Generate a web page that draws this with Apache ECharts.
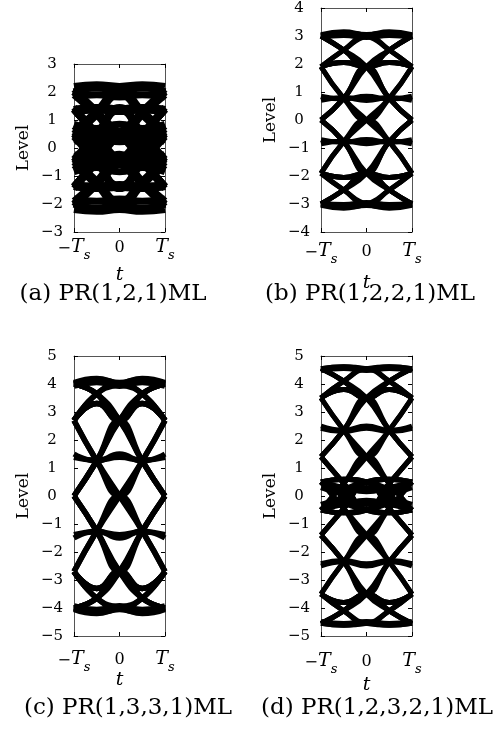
<!DOCTYPE html>
<html><head><meta charset="utf-8">
<script src="https://cdn.jsdelivr.net/npm/echarts@6/dist/echarts.min.js"></script>
<style>html,body{margin:0;padding:0;background:#fff}#c{width:499px;height:738px}</style>
</head><body><div id="c"></div>
<script>
// sample instants (in units of Ts) at which each trace's level is read
const tSamples = [-1, -0.5, 0, 0.5, 1];
const xTicks = [-1, 0, 1];

// (a) PR(1,2,1)ML traces: level at t = -Ts, -Ts/2, 0, Ts/2, Ts
const tracesA = [
  [2.0, 2.15, 2.0, 2.15, 2.0], [2.2, 2.26, 2.2, 2.26, 2.2], [1.82, 1.9, 1.82, 1.9, 1.82],
  [2.0, 2.15, 2.0, 1.25, 0.5], [0.5, 1.25, 2.0, 2.15, 2.0],
  [0.5, 1.25, 2.0, 1.25, 0.5], [2.0, 1.25, 0.5, 1.25, 2.0],
  [2.1, 1.32, 0.6, 1.32, 2.1], [1.9, 1.18, 0.4, 1.18, 1.9],
  [0.6, 1.32, 2.1, 1.32, 0.6], [0.4, 1.18, 1.9, 1.18, 0.4],
  [2.0, 1.25, 0.5, 0.6, 0.5], [0.5, 0.6, 0.5, 1.25, 2.0],
  [2.0, 1.25, 0.5, 0.0, -0.5], [-0.5, 0.0, 0.5, 1.25, 2.0],
  [1.38, 1.45, 1.38, 1.45, 1.38], [1.3, 1.36, 1.3, 1.36, 1.3],
  [1.38, 1.45, 1.38, 0.44, -0.5], [-0.5, 0.44, 1.38, 1.45, 1.38],
  [-0.5, 0.44, 1.38, 0.44, -0.5], [1.38, 0.44, -0.5, 0.44, 1.38],
  [-0.4, 0.52, 1.45, 0.52, -0.4], [1.45, 0.52, -0.4, 0.52, 1.45],
  [1.38, 0.44, -0.5, -0.6, -0.5], [-0.5, -0.6, -0.5, 0.44, 1.38],
  [1.38, 0.44, -0.5, 0.0, 0.5], [0.5, 0.0, -0.5, 0.44, 1.38],
  [1.38, 0.44, -0.5, -1.25, -2.0], [-2.0, -1.25, -0.5, 0.44, 1.38],
  [0.5, 0.6, 0.5, 0.6, 0.5], [0.85, 0.7, 0.85, 0.7, 0.85], [0.22, 0.45, 0.22, 0.45, 0.22],
  [0.5, 0.0, -0.5, 0.0, 0.5], [0.3, 0.12, -0.3, 0.12, 0.3],
  [-2.0, -2.15, -2.0, -2.15, -2.0], [-2.2, -2.26, -2.2, -2.26, -2.2], [-1.82, -1.9, -1.82, -1.9, -1.82],
  [-2.0, -2.15, -2.0, -1.25, -0.5], [-0.5, -1.25, -2.0, -2.15, -2.0],
  [-0.5, -1.25, -2.0, -1.25, -0.5], [-2.0, -1.25, -0.5, -1.25, -2.0],
  [-2.1, -1.32, -0.6, -1.32, -2.1], [-1.9, -1.18, -0.4, -1.18, -1.9],
  [-0.6, -1.32, -2.1, -1.32, -0.6], [-0.4, -1.18, -1.9, -1.18, -0.4],
  [-2.0, -1.25, -0.5, -0.6, -0.5], [-0.5, -0.6, -0.5, -1.25, -2.0],
  [-2.0, -1.25, -0.5, 0.0, 0.5], [0.5, 0.0, -0.5, -1.25, -2.0],
  [-1.38, -1.45, -1.38, -1.45, -1.38], [-1.3, -1.36, -1.3, -1.36, -1.3],
  [-1.38, -1.45, -1.38, -0.44, 0.5], [0.5, -0.44, -1.38, -1.45, -1.38],
  [0.5, -0.44, -1.38, -0.44, 0.5], [-1.38, -0.44, 0.5, -0.44, -1.38],
  [0.4, -0.52, -1.45, -0.52, 0.4], [-1.45, -0.52, 0.4, -0.52, -1.45],
  [-1.38, -0.44, 0.5, 0.6, 0.5], [0.5, 0.6, 0.5, -0.44, -1.38],
  [-1.38, -0.44, 0.5, 0.0, -0.5], [-0.5, 0.0, 0.5, -0.44, -1.38],
  [-1.38, -0.44, 0.5, 1.25, 2.0], [2.0, 1.25, 0.5, -0.44, -1.38],
  [-0.5, -0.6, -0.5, -0.6, -0.5], [-0.85, -0.7, -0.85, -0.7, -0.85], [-0.22, -0.45, -0.22, -0.45, -0.22],
  [-0.5, 0.0, 0.5, 0.0, -0.5], [-0.3, -0.12, 0.3, -0.12, -0.3]
];

// (b) PR(1,2,2,1)ML
const tracesB = [
  [3, 3.1, 3, 3.1, 3], [3.05, 3.15, 3.05, 3.15, 3.05], [2.95, 3.02, 2.95, 3.02, 2.95],
  [3, 3.1, 3, 2.5, 1.9], [1.9, 2.5, 3, 3.1, 3],
  [1.9, 2.5, 3, 2.5, 1.9], [3, 2.5, 1.9, 2.5, 3],
  [3, 2.5, 1.9, 2.05, 1.9], [1.9, 2.05, 1.9, 2.5, 3],
  [1.9, 2.05, 1.9, 2.05, 1.9],
  [3, 2.5, 1.9, 0.77, 0], [0, 0.77, 1.9, 2.5, 3],
  [1.9, 2.05, 1.9, 0.77, 0], [0, 0.77, 1.9, 2.05, 1.9],
  [0, 0.77, 1.9, 0.77, 0], [1.9, 0.77, 0, 0.77, 1.9],
  [1.9, 0.77, 0, -0.77, -1.9],
  [0.85, 0.75, 0.85, 0.75, 0.85], [0.7, 0.8, 0.7, 0.8, 0.7],
  [-3, -3.1, -3, -3.1, -3], [-3.05, -3.15, -3.05, -3.15, -3.05], [-2.95, -3.02, -2.95, -3.02, -2.95],
  [-3, -3.1, -3, -2.5, -1.9], [-1.9, -2.5, -3, -3.1, -3],
  [-1.9, -2.5, -3, -2.5, -1.9], [-3, -2.5, -1.9, -2.5, -3],
  [-3, -2.5, -1.9, -2.05, -1.9], [-1.9, -2.05, -1.9, -2.5, -3],
  [-1.9, -2.05, -1.9, -2.05, -1.9],
  [-3, -2.5, -1.9, -0.77, 0], [0, -0.77, -1.9, -2.5, -3],
  [-1.9, -2.05, -1.9, -0.77, 0], [0, -0.77, -1.9, -2.05, -1.9],
  [0, -0.77, -1.9, -0.77, 0], [-1.9, -0.77, 0, -0.77, -1.9],
  [-1.9, -0.77, 0, 0.77, 1.9],
  [-0.85, -0.75, -0.85, -0.75, -0.85], [-0.7, -0.8, -0.7, -0.8, -0.7]
];

// (c) PR(1,3,3,1)ML
const tracesC = [
  [4, 4.15, 4, 4.15, 4], [4.05, 4.2, 4.05, 4.2, 4.05], [3.92, 4.05, 3.92, 4.05, 3.92],
  [4, 4.15, 4, 3.65, 2.7], [2.7, 3.65, 4, 4.15, 4],
  [2.7, 3.65, 4, 3.65, 2.7], [4, 3.65, 2.7, 3.65, 4],
  [4, 3.65, 2.7, 3.3, 2.7], [2.7, 3.3, 2.7, 3.65, 4],
  [2.7, 3.3, 2.7, 3.3, 2.7],
  [4, 3.65, 2.7, 1.25, 0], [0, 1.25, 2.7, 3.65, 4],
  [2.7, 3.3, 2.7, 1.25, 0], [0, 1.25, 2.7, 3.3, 2.7],
  [0, 1.25, 2.7, 1.25, 0], [2.7, 1.25, 0, 1.25, 2.7],
  [2.7, 1.25, 0, -1.25, -2.7],
  [1.5, 1.25, 1.5, 1.25, 1.5], [1.38, 1.28, 1.38, 1.28, 1.38],
  [-4, -4.15, -4, -4.15, -4], [-4.05, -4.2, -4.05, -4.2, -4.05], [-3.92, -4.05, -3.92, -4.05, -3.92],
  [-4, -4.15, -4, -3.65, -2.7], [-2.7, -3.65, -4, -4.15, -4],
  [-2.7, -3.65, -4, -3.65, -2.7], [-4, -3.65, -2.7, -3.65, -4],
  [-4, -3.65, -2.7, -3.3, -2.7], [-2.7, -3.3, -2.7, -3.65, -4],
  [-2.7, -3.3, -2.7, -3.3, -2.7],
  [-4, -3.65, -2.7, -1.25, 0], [0, -1.25, -2.7, -3.65, -4],
  [-2.7, -3.3, -2.7, -1.25, 0], [0, -1.25, -2.7, -3.3, -2.7],
  [0, -1.25, -2.7, -1.25, 0], [-2.7, -1.25, 0, -1.25, -2.7],
  [-2.7, -1.25, 0, 1.25, 2.7],
  [-1.5, -1.25, -1.5, -1.25, -1.5], [-1.38, -1.28, -1.38, -1.28, -1.38]
];

// (d) PR(1,2,3,2,1)ML
const tracesD = [
  [4.55, 4.62, 4.55, 4.62, 4.55], [4.48, 4.55, 4.48, 4.55, 4.48],
  [4.55, 4.62, 4.55, 4.1, 3.5], [3.5, 4.1, 4.55, 4.62, 4.55],
  [3.5, 4.1, 4.55, 4.1, 3.5], [4.55, 4.1, 3.5, 4.1, 4.55],
  [4.55, 4.1, 3.5, 3.8, 3.5], [3.5, 3.8, 3.5, 4.1, 4.55],
  [3.5, 3.8, 3.5, 3.8, 3.5],
  [4.55, 4.1, 3.5, 2.35, 1.4], [1.4, 2.35, 3.5, 4.1, 4.55],
  [3.5, 3.8, 3.5, 2.35, 1.4], [1.4, 2.35, 3.5, 3.8, 3.5],
  [1.4, 2.35, 3.5, 2.35, 1.4], [3.5, 2.35, 1.4, 2.35, 3.5],
  [3.5, 2.35, 1.4, 0.45, -0.5], [-0.5, 0.45, 1.4, 2.35, 3.5],
  [-0.5, 0.45, 1.4, 0.45, -0.5], [1.4, 0.45, -0.5, 0.45, 1.4],
  [2.5, 2.35, 2.5, 2.35, 2.5], [2.42, 2.3, 2.42, 2.3, 2.42],
  [0.5, 0.0, -0.5, 0.0, 0.5], [-0.5, 0.0, 0.5, 0.0, -0.5],
  [0.5, 0.6, 0.5, 0.6, 0.5], [0.5, 0.3, 0.5, 0.3, 0.5], [0.3, 0.15, 0.3, 0.15, 0.3],
  [0.5, 0.3, 0.15, 0.3, 0.5],
  [0.5, 0.6, 0.5, 0.0, -0.5], [-0.5, 0.0, 0.5, 0.6, 0.5],
  [1.4, 0.45, -0.5, 0.0, 0.5], [0.5, 0.0, -0.5, 0.45, 1.4],
  [1.4, 0.45, -0.5, -0.6, -0.5], [-0.5, -0.6, -0.5, 0.45, 1.4],
  [-4.55, -4.62, -4.55, -4.62, -4.55], [-4.48, -4.55, -4.48, -4.55, -4.48],
  [-4.55, -4.62, -4.55, -4.1, -3.5], [-3.5, -4.1, -4.55, -4.62, -4.55],
  [-3.5, -4.1, -4.55, -4.1, -3.5], [-4.55, -4.1, -3.5, -4.1, -4.55],
  [-4.55, -4.1, -3.5, -3.8, -3.5], [-3.5, -3.8, -3.5, -4.1, -4.55],
  [-3.5, -3.8, -3.5, -3.8, -3.5],
  [-4.55, -4.1, -3.5, -2.35, -1.4], [-1.4, -2.35, -3.5, -4.1, -4.55],
  [-3.5, -3.8, -3.5, -2.35, -1.4], [-1.4, -2.35, -3.5, -3.8, -3.5],
  [-1.4, -2.35, -3.5, -2.35, -1.4], [-3.5, -2.35, -1.4, -2.35, -3.5],
  [-3.5, -2.35, -1.4, -0.45, 0.5], [0.5, -0.45, -1.4, -2.35, -3.5],
  [0.5, -0.45, -1.4, -0.45, 0.5], [-1.4, -0.45, 0.5, -0.45, -1.4],
  [-2.5, -2.35, -2.5, -2.35, -2.5], [-2.42, -2.3, -2.42, -2.3, -2.42],
  [-0.5, -0.6, -0.5, -0.6, -0.5], [-0.5, -0.3, -0.5, -0.3, -0.5], [-0.3, -0.15, -0.3, -0.15, -0.3],
  [-0.5, -0.3, -0.15, -0.3, -0.5],
  [-0.5, -0.6, -0.5, 0.0, 0.5], [0.5, 0.0, -0.5, -0.6, -0.5],
  [-1.4, -0.45, 0.5, 0.0, -0.5], [-0.5, 0.0, 0.5, -0.45, -1.4],
  [-1.4, -0.45, 0.5, 0.6, 0.5], [0.5, 0.6, 0.5, -0.45, -1.4]
];

const captions = ['(a) PR(1,2,1)ML', '(b) PR(1,2,2,1)ML', '(c) PR(1,3,3,1)ML', '(d) PR(1,2,3,2,1)ML'];
const yRanges = [[-3, 3], [-4, 4], [-5, 5], [-5, 5]];
const allTraces = [tracesA, tracesB, tracesC, tracesD];

const layout = [
  {grid: {left: 74, top: 64, width: 91, height: 168}, lw: 7, xm: 6, tg: 34, cap: [113, 294]},
  {grid: {left: 321, top: 8, width: 91, height: 224}, lw: 5, xm: 10, tg: 42, cap: [370, 294]},
  {grid: {left: 74, top: 356, width: 91, height: 280}, lw: 5.5, xm: 14, tg: 35, cap: [128, 708]},
  {grid: {left: 321, top: 356, width: 91, height: 280}, lw: 5, xm: 16, tg: 40, cap: [377, 708]}
];

const SERIF = 'DejaVu Serif';
const frameColor = '#555';
const rich = {
  m: {fontFamily: SERIF, fontSize: 16, color: '#000', lineHeight: 22, verticalAlign: 'top', padding: [3, 0, 0, 0]},
  T: {fontFamily: SERIF, fontStyle: 'italic', fontSize: 19, color: '#000', lineHeight: 22, verticalAlign: 'top'},
  s: {fontFamily: SERIF, fontStyle: 'italic', fontSize: 13, color: '#000', lineHeight: 14, verticalAlign: 'top', padding: [11, 0, 0, 0]},
  n: {fontFamily: SERIF, fontSize: 16, color: '#000', lineHeight: 22, verticalAlign: 'top', padding: [2, 0, 0, 0]}
};
function xFmt(v) {
  if (v === -1) return '{m|\u2212}{T|T}{s|s}';
  if (v === 1) return '{T|T}{s|s}';
  return '{n|0}';
}
function yFmt(v) { return v < 0 ? '\u2212' + (-v) : String(v); }

const grids = [], xAxes = [], yAxes = [], series = [], graphics = [];
const tick = {show: true, inside: true, length: 4, lineStyle: {color: '#000'}};
const line = {show: true, onZero: false, lineStyle: {color: frameColor, width: 1}};
layout.forEach((L, i) => {
  grids.push(Object.assign({show: false, containLabel: false}, L.grid));
  xAxes.push({
    type: 'value', gridIndex: i, min: xTicks[0], max: xTicks[xTicks.length - 1], interval: 1,
    position: 'bottom', axisLine: line, axisTick: tick, splitLine: {show: false},
    axisLabel: {formatter: xFmt, rich: rich, margin: L.xm, color: '#000'},
    name: 't', nameLocation: 'middle', nameGap: L.tg, nameMoveOverlap: false,
    nameTextStyle: {fontFamily: SERIF, fontStyle: 'italic', fontSize: 19, color: '#000'}
  });
  xAxes.push({
    type: 'value', gridIndex: i, min: xTicks[0], max: xTicks[xTicks.length - 1], interval: 1,
    position: 'top', axisLine: line, axisTick: tick, splitLine: {show: false}, axisLabel: {show: false}
  });
  const yr = yRanges[i];
  yAxes.push({
    type: 'value', gridIndex: i, min: yr[0], max: yr[1], interval: 1, position: 'left',
    axisLine: line, axisTick: tick, splitLine: {show: false},
    axisLabel: {formatter: yFmt, fontFamily: SERIF, fontSize: 15, color: '#000', align: 'center', margin: 22},
    name: 'Level', nameLocation: 'middle', nameGap: 42, nameRotate: 90, nameMoveOverlap: false,
    nameTextStyle: {fontFamily: SERIF, fontSize: 17, color: '#000'}
  });
  yAxes.push({
    type: 'value', gridIndex: i, min: yr[0], max: yr[1], interval: 1, position: 'right',
    axisLine: line, axisTick: tick, splitLine: {show: false}, axisLabel: {show: false}
  });
  allTraces[i].forEach(tr => {
    series.push({
      type: 'line', xAxisIndex: 2 * i, yAxisIndex: 2 * i,
      data: tSamples.map((t, k) => [t, tr[k]]),
      smooth: 0.5, symbol: 'none', silent: true, clip: true,
      lineStyle: {color: '#000', width: L.lw}
    });
  });
  graphics.push({
    type: 'text', x: L.cap[0], y: L.cap[1],
    style: {text: captions[i], fontFamily: SERIF, fontSize: 23, fill: '#000', align: 'center', verticalAlign: 'middle'}
  });
});

const chart = echarts.init(document.getElementById('c'), null, {renderer: 'canvas'});
chart.setOption({
  backgroundColor: '#fff', animation: false,
  grid: grids, xAxis: xAxes, yAxis: yAxes, series: series, graphic: graphics
});
</script></body></html>
